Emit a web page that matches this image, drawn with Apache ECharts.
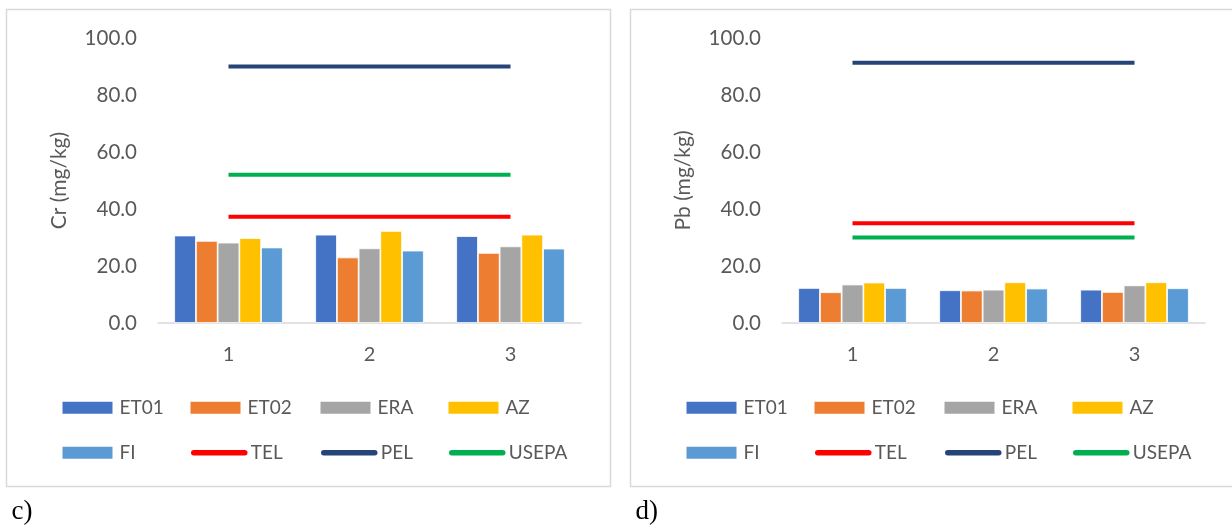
<!DOCTYPE html>
<html>
<head>
<meta charset="utf-8">
<script src="https://cdn.jsdelivr.net/npm/echarts@6/dist/echarts.min.js"></script>
<style>
  html, body { margin: 0; padding: 0; background: #ffffff; }
  #chart { width: 1232px; height: 525px; }
</style>
</head>
<body>
<div id="chart"></div>
<script>
// Sampling sites on the category axis
const categories = ['1', '2', '3'];
const yTickValues = [0, 20, 40, 60, 80, 100];

// Chromium (mg/kg) per station
const crET01 = [30.7, 31.0, 30.5];
const crET02 = [28.8, 23.0, 24.6];
const crERA  = [28.2, 26.2, 26.9];
const crAZ   = [29.8, 32.3, 31.0];
const crFI   = [26.5, 25.4, 26.1];
// Chromium guideline levels
const crTEL   = [37.3, 37.3, 37.3];
const crPEL   = [90.0, 90.0, 90.0];
const crUSEPA = [52.0, 52.0, 52.0];

// Lead (mg/kg) per station
const pbET01 = [12.3, 11.5, 11.7];
const pbET02 = [10.8, 11.4, 10.9];
const pbERA  = [13.5, 11.7, 13.2];
const pbAZ   = [14.2, 14.3, 14.3];
const pbFI   = [12.3, 12.1, 12.2];
// Lead guideline levels
const pbTEL   = [35.0, 35.0, 35.0];
const pbPEL   = [91.3, 91.3, 91.3];
const pbUSEPA = [30.0, 30.0, 30.0];

const barNames  = ['ET01', 'ET02', 'ERA', 'AZ', 'FI'];
const lineNames = ['TEL', 'PEL', 'USEPA'];

const colors = {
  ET01: '#4472C4', ET02: '#ED7D31', ERA: '#A5A5A5', AZ: '#FFC000', FI: '#5B9BD5',
  TEL: '#FF0000', PEL: '#264478', USEPA: '#00B050'
};

const panels = [
  { name: 'Cr (mg/kg)', tag: 'c)', x: 6.5, width: 604,
    bars: [crET01, crET02, crERA, crAZ, crFI], lines: [crTEL, crPEL, crUSEPA] },
  { name: 'Pb (mg/kg)', tag: 'd)', x: 630.5, width: 620,
    bars: [pbET01, pbET02, pbERA, pbAZ, pbFI], lines: [pbTEL, pbPEL, pbUSEPA] }
];

const FONT = 'Lato, "Open Sans", sans-serif';
const TEXT = '#595959';

const grids = [], xAxes = [], yAxes = [], series = [], legends = [], graphics = [];

// Legend layout: 4 columns, 2 rows (offsets within each panel)
const legendOrder = [['ET01', 'ET02', 'ERA', 'AZ'], ['FI', 'TEL', 'PEL', 'USEPA']];
const legendCols = [54, 182, 312, 440];
const legendRows = [407.7, 452.7];

panels.forEach((p, i) => {
  grids.push({ left: p.x + 151.5, top: 38, width: 423, height: 285, containLabel: false });
  xAxes.push({
    type: 'category', gridIndex: i, data: categories,
    axisLine: { lineStyle: { color: '#D9D9D9', width: 1.5 } },
    axisTick: { show: false },
    axisLabel: { color: TEXT, fontSize: 20, fontFamily: FONT, margin: 22 }
  });
  yAxes.push({
    type: 'value', gridIndex: i, min: 0, max: 100, interval: 20,
    name: p.name, nameLocation: 'middle', nameGap: 88, nameRotate: 90,
    nameTextStyle: { color: TEXT, fontSize: 21, fontFamily: FONT },
    axisLine: { show: false }, axisTick: { show: false },
    splitLine: { show: false },
    axisLabel: {
      color: TEXT, fontSize: 20.5, fontFamily: FONT, margin: 21,
      formatter: v => (yTickValues.includes(v) ? v.toFixed(1) : '')
    }
  });
  barNames.forEach((n, k) => {
    series.push({
      name: n, type: 'bar', xAxisIndex: i, yAxisIndex: i, data: p.bars[k],
      barGap: '0%', barCategoryGap: '23%',
      itemStyle: { color: colors[n], borderColor: '#ffffff', borderWidth: 0.8 },
      emphasis: { disabled: true }
    });
  });
  lineNames.forEach((n, k) => {
    series.push({
      name: n, type: 'line', xAxisIndex: i, yAxisIndex: i, data: p.lines[k],
      symbol: 'none', z: 5,
      lineStyle: { color: colors[n], width: 4, cap: 'butt' },
      itemStyle: { color: colors[n] },
      emphasis: { disabled: true }
    });
  });

  // Legend: one small legend per entry for exact placement
  legendOrder.forEach((row, r) => {
    row.forEach((n, c) => {
      const isLine = lineNames.includes(n);
      const lg = {
        left: p.x + legendCols[c] + (isLine ? 2.5 : 0), top: legendRows[r] - 10,
        orient: 'horizontal', padding: 0, itemGap: 0,
        itemWidth: isLine ? 51 : 52, itemHeight: 14,
        data: [n],
        selectedMode: false,
        textStyle: { color: TEXT, fontSize: 19, fontFamily: FONT, lineHeight: 20, padding: [0, 0, 0, isLine ? 1 : 1] }
      };
      if (isLine) {
        lg.itemStyle = { color: 'rgba(0,0,0,0)', borderWidth: 0, opacity: 0 };
        lg.lineStyle = { width: 5.5, cap: 'round', color: colors[n] };
      } else {
        lg.icon = 'rect';
      }
      legends.push(lg);
    });
  });

  // Panel frame and caption
  graphics.push({
    type: 'rect', silent: true,
    shape: { x: p.x, y: 9.5, width: p.width, height: 477 },
    style: { fill: null, stroke: '#D9D9D9', lineWidth: 1.5 }
  });
  graphics.push({
    type: 'text', silent: true, left: p.x + 5, top: 498,
    style: { text: p.tag, fontFamily: '"Liberation Serif", "DejaVu Serif", serif', fontSize: 27, fill: '#000000' }
  });
});

const chart = echarts.init(document.getElementById('chart'), null, { renderer: 'canvas' });
chart.setOption({
  animation: false,
  backgroundColor: '#ffffff',
  grid: grids,
  xAxis: xAxes,
  yAxis: yAxes,
  legend: legends,
  series: series,
  graphic: graphics
});
</script>
</body>
</html>
